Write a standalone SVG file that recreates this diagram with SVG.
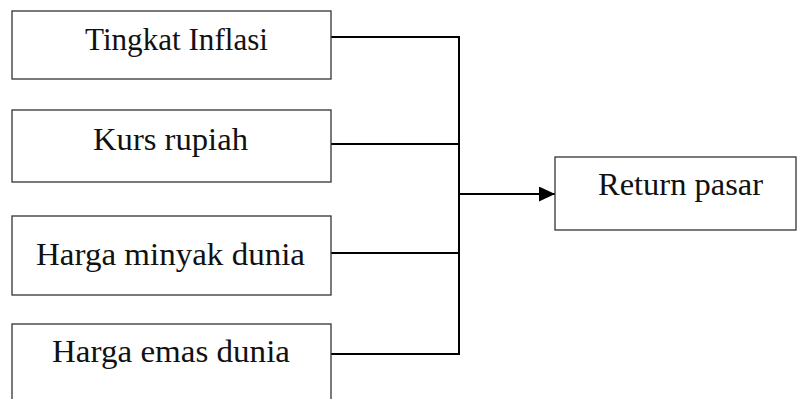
<svg xmlns="http://www.w3.org/2000/svg" width="797" height="399" viewBox="0 0 797 399">
<style>
.box{fill:#fff;stroke:#333;stroke-width:1.3}
.lbl{font-family:"Liberation Serif","DejaVu Serif",serif;font-size:31px;fill:#111;text-anchor:middle}
.con{fill:none;stroke:#000;stroke-width:2}
</style>
<defs>
<marker id="ah" markerWidth="17" markerHeight="16" refX="16" refY="7.5" orient="auto" markerUnits="userSpaceOnUse">
<path d="M0,0 L16,7.5 L0,15 Z" fill="#000"/>
</marker>
</defs>
<rect width="797" height="399" fill="#fff"/>
<g id="connectors">
<path class="con" d="M331,37 H459 V354 H331"/>
<path class="con" d="M331,144 H459"/>
<path class="con" d="M331,253 H459"/>
<path class="con" d="M459,194 H555" marker-end="url(#ah)"/>
</g>
<g id="n1"><rect class="box" x="12" y="11" width="319" height="68"/><text class="lbl" x="176.5" y="50" textLength="183" lengthAdjust="spacingAndGlyphs">Tingkat Inflasi</text></g>
<g id="n2"><rect class="box" x="12" y="110" width="319" height="72"/><text class="lbl" x="170.5" y="150" textLength="155" lengthAdjust="spacingAndGlyphs">Kurs rupiah</text></g>
<g id="n3"><rect class="box" x="12" y="216" width="319" height="79"/><text class="lbl" x="170.5" y="265" textLength="269" lengthAdjust="spacingAndGlyphs">Harga minyak dunia</text></g>
<g id="n4"><rect class="box" x="12" y="324" width="319" height="80"/><text class="lbl" x="171" y="362" textLength="238" lengthAdjust="spacingAndGlyphs">Harga emas dunia</text></g>
<g id="n5"><rect class="box" x="555" y="157" width="241" height="73"/><text class="lbl" x="680.5" y="195" textLength="165" lengthAdjust="spacingAndGlyphs">Return pasar</text></g>
</svg>
